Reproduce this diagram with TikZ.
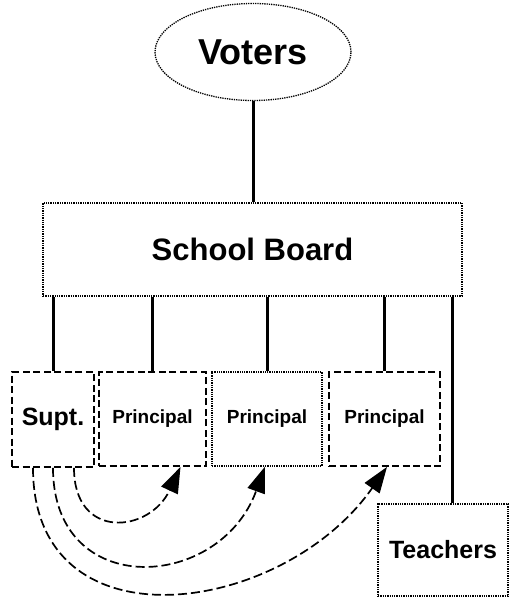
\documentclass[tikz,border=0pt]{standalone}
\usepackage{fontspec}
\setmainfont{Liberation Sans}
\usetikzlibrary{shapes.geometric,arrows.meta}

\begin{document}
\begin{tikzpicture}[x=1pt,y=-1pt,
	font=\bfseries,
	link/.style={line width=3pt},
	dashbox/.style={draw,line width=1.8pt,dash pattern=on 7pt off 3.5pt,inner sep=0pt,minimum height=94pt},
	dotbox/.style={draw,line width=1.3pt,dash pattern=on 1.3pt off 1pt,inner sep=0pt},
	order/.style={line width=1.7pt,dash pattern=on 9pt off 4pt,-{Triangle[length=26pt,width=18pt]}}]
	
	\def\ptext{\fontsize{19}{19}\selectfont};
	\def\btext{\fontsize{25}{25}\selectfont};
	
	\useasboundingbox (0,0) rectangle (511,597);
	
	\node[dotbox,ellipse,minimum width=196pt,minimum height=97pt] (voters) at (253,52) {\fontsize{36}{36}\selectfont Voters};
	\node[dotbox,minimum width=419pt,minimum height=93pt] (board) at (252.5,249.5) {\fontsize{31}{31}\selectfont School Board};
	
	\node[dashbox,minimum width=82pt,minimum height=95pt] (supt) at (53,419.5) {\btext Supt.};
	\node[dashbox,minimum width=107pt] (prinA) at (152.5,419) {\ptext Principal};
	\node[dotbox,minimum width=110pt,minimum height=94pt] (prinB) at (267,419) {\ptext Principal};
	\node[dashbox,minimum width=111pt] (prinC) at (384.5,419) {\ptext Principal};
	\node[dotbox,minimum width=130pt,minimum height=92pt] (teach) at (443,550) {\btext Teachers};
	
	\coordinate (tline) at ([xshift=9pt]teach.north);
	
	\draw[link] (voters.south) -- (voters.south |- board.north);
	\draw[link] (board.south -| supt.north) -- (supt.north);
	\draw[link] (board.south -| prinA.north) -- (prinA.north);
	\draw[link] (board.south -| prinB.north) -- (prinB.north);
	\draw[link] (board.south -| prinC.north) -- (prinC.north);
	\draw[link] (board.south -| tline) -- (tline);
	
	\draw[order] ([xshift=21pt]supt.south) to[out=-90,in=-115,looseness=1.75] ([xshift=28pt]prinA.south);
	\draw[order] (supt.south) to[out=-90,in=-110,looseness=1.6] ([xshift=-2pt]prinB.south);
	\draw[order] ([xshift=-20pt]supt.south) to[out=-90,in=-125,looseness=1.32] ([xshift=2.5pt]prinC.south);
	
\end{tikzpicture}
\end{document}
